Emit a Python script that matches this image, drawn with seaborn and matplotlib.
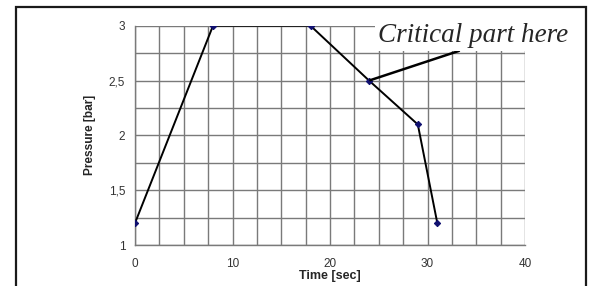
import matplotlib
matplotlib.use("Agg")
import matplotlib.pyplot as plt
import seaborn as sns
import pandas as pd
from matplotlib.patches import Rectangle
from matplotlib.ticker import MultipleLocator, FixedLocator, FixedFormatter

# data
time_sec = [0, 8, 18, 24, 29, 31]
pressure_bar = [1.2, 3.0, 3.0, 2.5, 2.1, 1.2]
x_ticks = [0, 10, 20, 30, 40]
y_ticks = [1, 1.5, 2, 2.5, 3]
y_ticklabels = ['1', '1,5', '2', '2,5', '3']
note_text = 'Critical part here'
note_point = (24, 2.5)

sns.set_style("white")
plt.rcParams['font.family'] = ['Liberation Sans', 'DejaVu Sans']

df = pd.DataFrame({'time': time_sec, 'pressure': pressure_bar})

fig = plt.figure(figsize=(5.92, 2.86), dpi=100)
ax = fig.add_axes([0.228, 0.143, 0.659, 0.767])

sns.lineplot(data=df, x='time', y='pressure', ax=ax, color='black', linewidth=1.4,
             marker='D', markersize=3.2, markerfacecolor='#101070',
             markeredgecolor='#101070', zorder=3)

ax.set_xlim(0, 40)
ax.set_ylim(1, 3)
ax.xaxis.set_major_locator(FixedLocator(x_ticks))
ax.yaxis.set_major_locator(FixedLocator(y_ticks))
ax.yaxis.set_major_formatter(FixedFormatter(y_ticklabels))
ax.xaxis.set_minor_locator(MultipleLocator(2.5))
ax.yaxis.set_minor_locator(MultipleLocator(0.25))
ax.grid(which='both', color='#7a7a7a', linewidth=1.0)
ax.set_axisbelow(True)

for s in ['top', 'right']:
    ax.spines[s].set_visible(False)
for s in ['left', 'bottom']:
    ax.spines[s].set_color('#7a7a7a')
    ax.spines[s].set_linewidth(1.0)

ax.tick_params(which='major', direction='out', length=4, width=1.0, color='#7a7a7a',
               labelsize=8.5, labelcolor='#333333', pad=3)
ax.tick_params(which='minor', length=0)
ax.tick_params(axis='x', pad=5)

ax.set_xlabel('Time [sec]', fontsize=9, fontweight='bold', labelpad=0.5)
ax.set_ylabel('Pressure [bar]', fontsize=8.6, fontweight='bold', labelpad=9)

ax.annotate(note_text, xy=note_point, xytext=(24.9, 2.85), textcoords='data',
            fontsize=19.5, fontstyle='italic', family=['Liberation Serif', 'DejaVu Serif'],
            ha='left', va='baseline', annotation_clip=False,
            bbox=dict(boxstyle='square,pad=0.1', fc='white', ec='none'),
            arrowprops=dict(arrowstyle='-', color='black', lw=1.8,
                            shrinkA=0, shrinkB=1, relpos=(0.47, 0.0)),
            zorder=4)

fig.add_artist(Rectangle((16 / 592, -0.2), 570 / 592, 1.2 - 7 / 286,
                         transform=fig.transFigure, fill=False, ec='#1a1a1a', lw=1.6,
                         clip_on=False))

fig.savefig('out.png', dpi=100)
